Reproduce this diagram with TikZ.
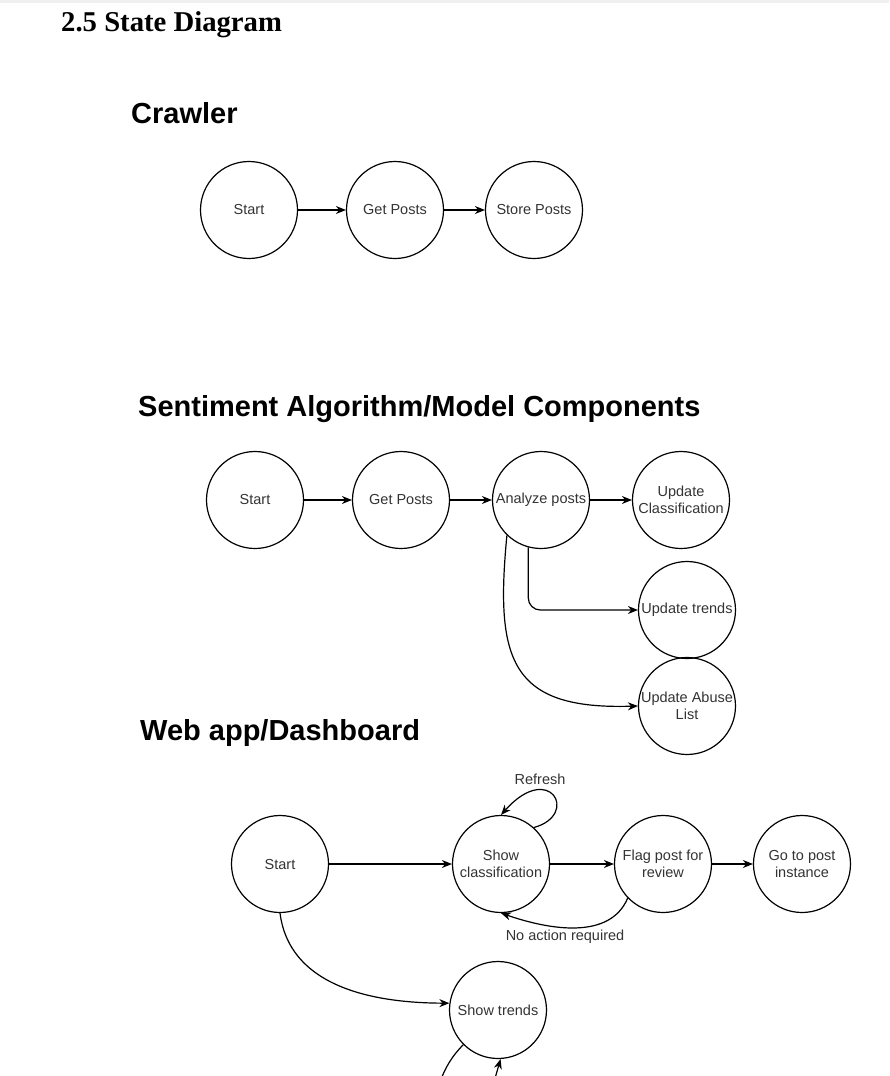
\documentclass[tikz,border=0pt]{standalone}
\usepackage{fontspec}
\setmainfont{Liberation Serif}
\setsansfont{Liberation Sans}
\usepackage{tikz}
\usetikzlibrary{arrows.meta}
\definecolor{labelgray}{gray}{0.2}
\tikzset{
  state/.style={draw, circle, line width=1.2pt, minimum size=97pt, inner sep=0pt,
    align=center, font=\sffamily\fontsize{14.5}{17}\selectfont, text=labelgray},
  arrow/.style={-{Stealth[length=10pt,width=8pt]}, line width=1.2pt},
  heading/.style={anchor=base west, inner sep=0pt, font=\sffamily\bfseries\fontsize{29}{32}\selectfont},
  edgelabel/.style={font=\sffamily\fontsize{14.5}{17}\selectfont, text=labelgray, inner sep=1pt}
}
\begin{document}
\begin{tikzpicture}[x=1pt, y=-1pt]
  \useasboundingbox (0,0) rectangle (889,1076);
  \fill[gray!12] (0,0) rectangle (889,3);

  % Titles
  \node[anchor=base west, inner sep=0pt, font=\rmfamily\bfseries\fontsize{28.7}{31}\selectfont] (title) at (61,31) {2.5 State Diagram};
  \node[heading] (hcrawler) at (131,123) {Crawler};
  \node[heading] (hsentiment) at (138,416) {Sentiment Algorithm/Model Components};
  \node[heading] (hweb) at (140,740) {Web app/Dashboard};

  % Crawler
  \node[state] (cstart) at (249,210) {Start};
  \node[state] (cget) at (395,210) {Get Posts};
  \node[state] (cstore) at (534,210) {Store Posts};
  \draw[arrow] (cstart) -- (cget);
  \draw[arrow] (cget) -- (cstore);

  % Sentiment algorithm
  \node[state] (sstart) at (255,500) {Start};
  \node[state] (sget) at (401,500) {Get Posts};
  \node[state] (sana) at (541,500) {Analyze posts};
  \node[state] (sclass) at (681,500) {Update\\Classification};
  \node[state] (strend) at (687,610) {Update trends};
  \node[state] (sabuse) at (687,706) {Update Abuse\\List};
  \foreach \a/\b in {sstart/sget, sget/sana, sana/sclass} {
    \draw[arrow] (\a) -- (\b);
  }
  \draw[arrow, rounded corners=12pt] (sana.255) |- (strend.west);
  \draw[arrow] (sana.226) .. controls (495,660) and (510,710) .. (sabuse.west);

  % Web app
  \node[state] (wstart) at (280,864) {Start};
  \node[state] (wshow) at (501,864) {Show\\classification};
  \node[state] (wflag) at (663,864) {Flag post for\\review};
  \node[state] (wgo) at (802,864) {Go to post\\instance};
  \node[state] (wtrend) at (498,1010) {Show trends};
  \foreach \a/\b in {wstart/wshow, wshow/wflag, wflag/wgo} {
    \draw[arrow] (\a) -- (\b);
  }
  \draw[arrow] (wshow.48) .. controls (580,815) and (550,760) .. (wshow.north);
  \node[edgelabel] (lrefresh) at (540,779) {Refresh};
  \draw[arrow] (wflag.224) .. controls (610,940) and (550,930) .. (wshow.south);
  \node[edgelabel] (lnoaction) at (565,937) {No action required};
  \draw[arrow] (wstart.south) .. controls (290,990) and (380,1003) .. (wtrend.172);

  % cut off at the page edge
  \coordinate (cutleft) at (440,1082);
  \coordinate (cutright) at (494,1082);
  \draw[line width=1.2pt] (wtrend.225) .. controls (452,1056) and (445,1068) .. (cutleft);
  \draw[arrow] (cutright) -- (wtrend.273);
\end{tikzpicture}
\end{document}
